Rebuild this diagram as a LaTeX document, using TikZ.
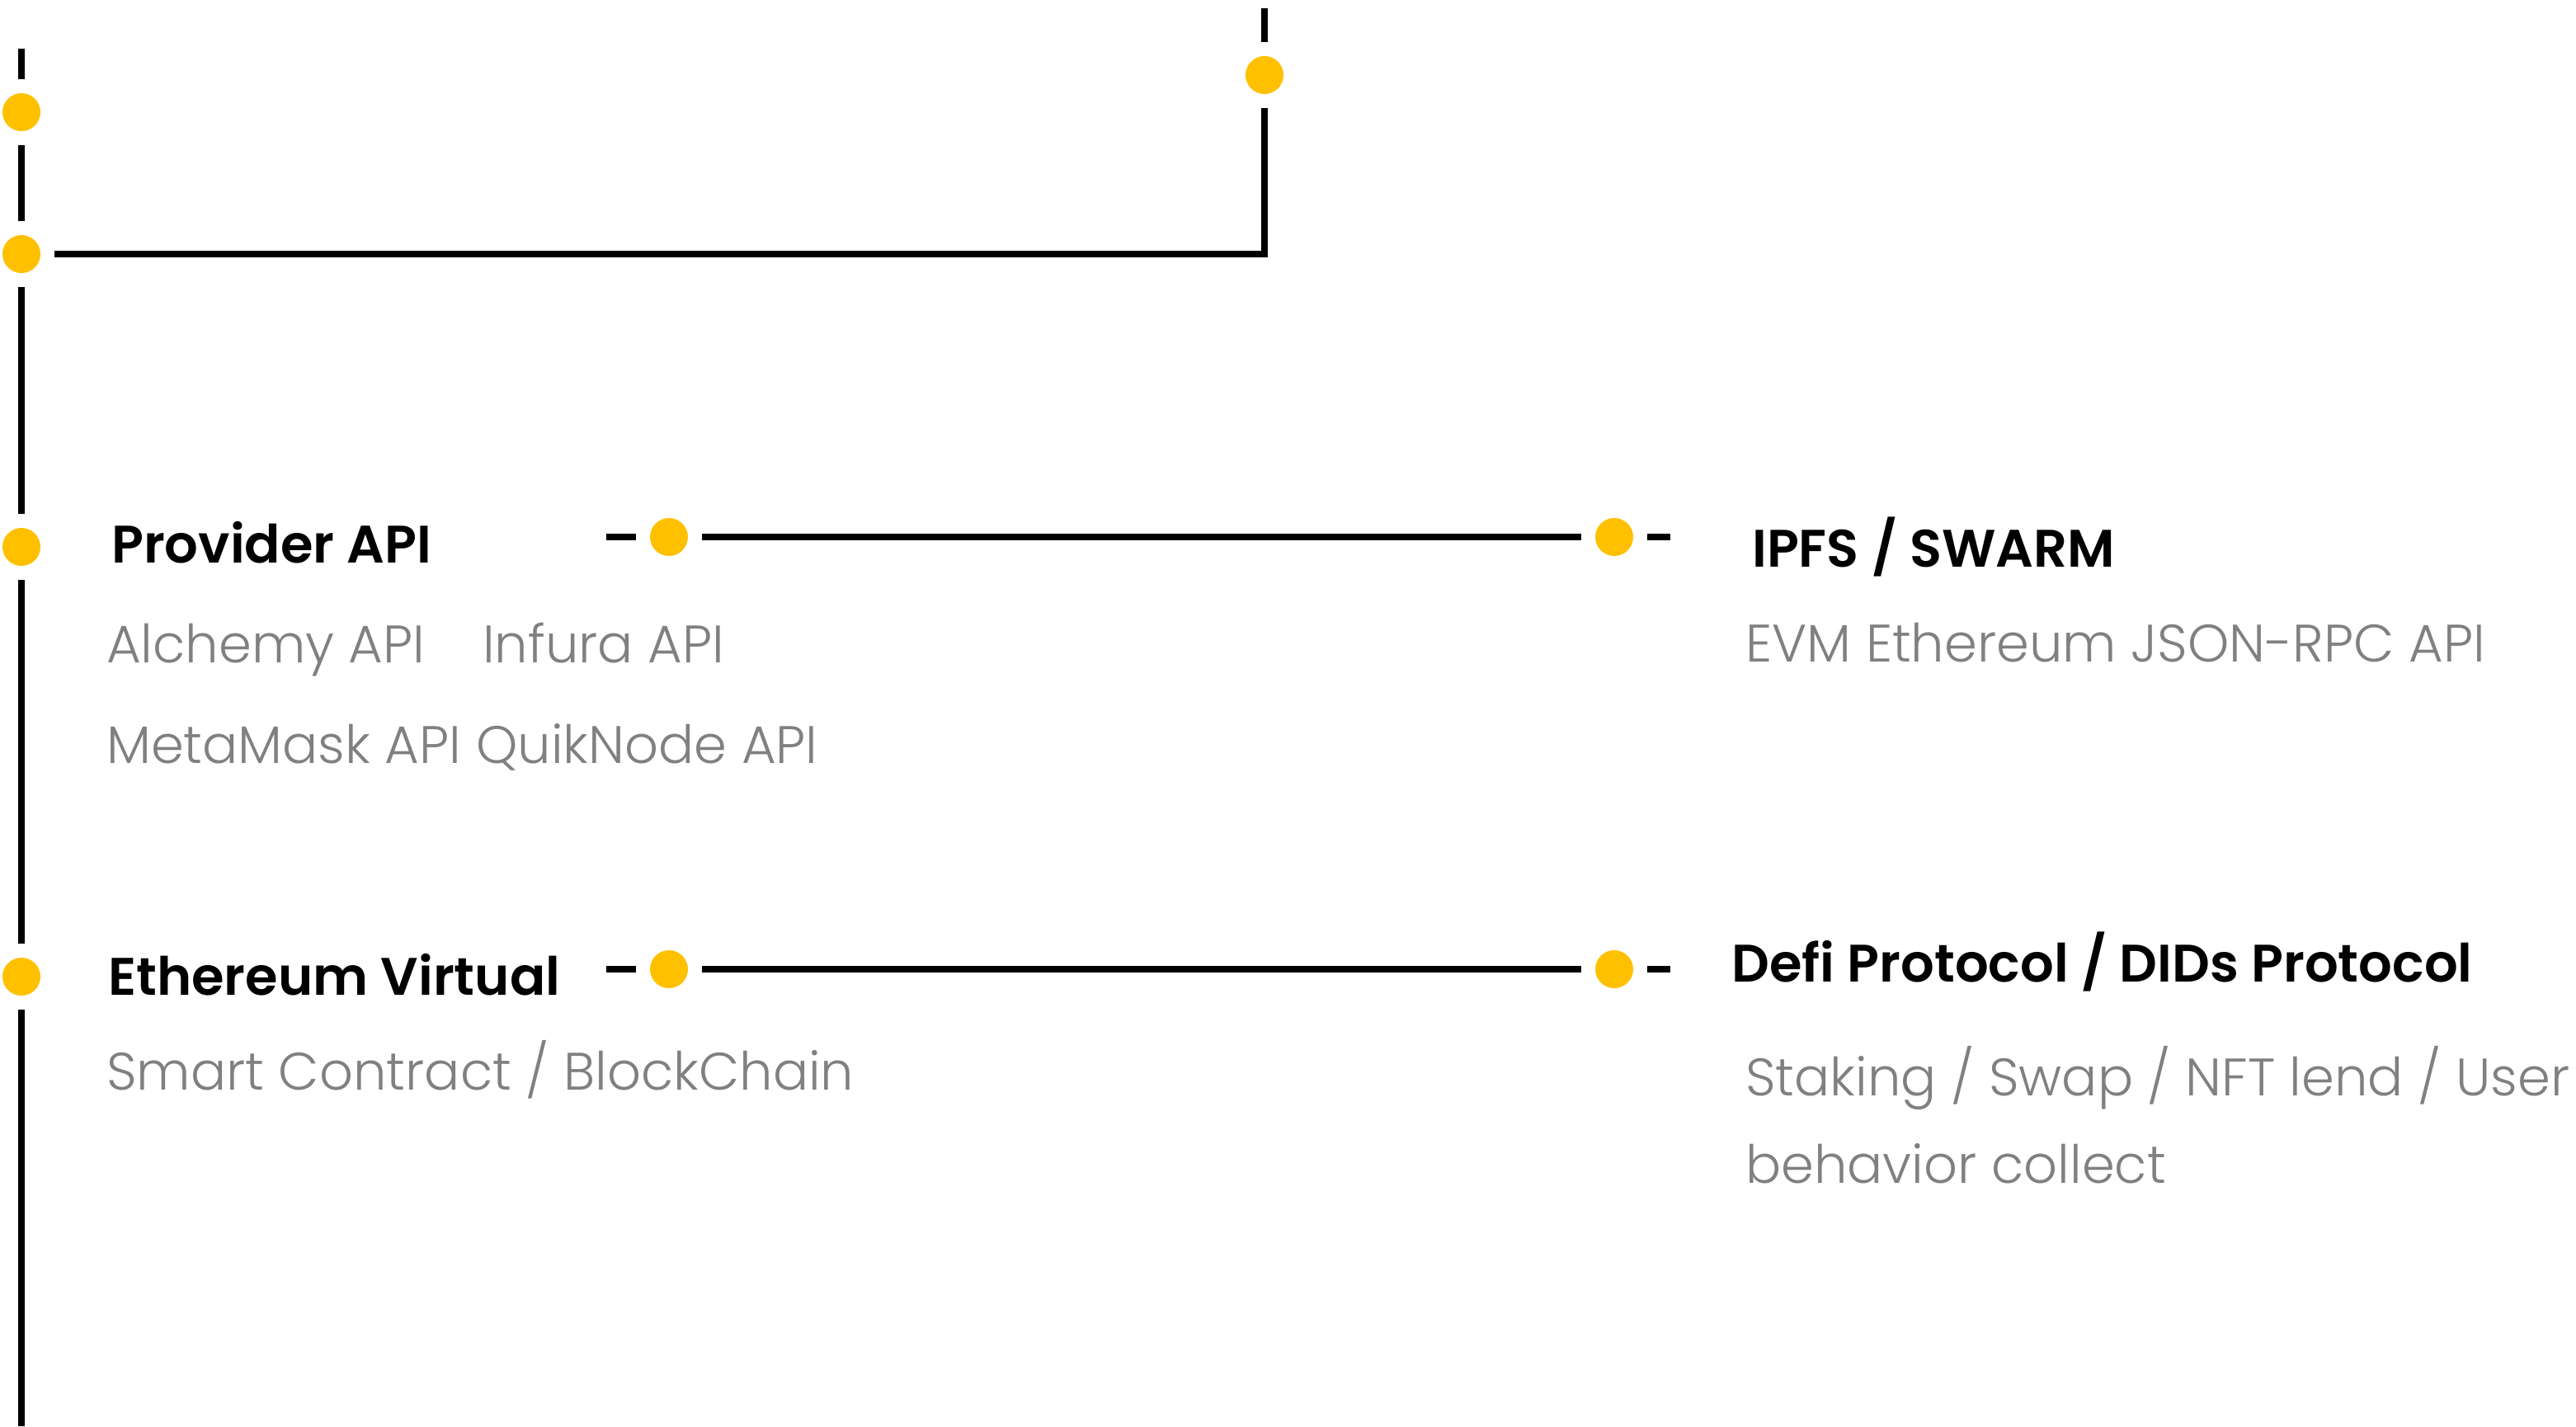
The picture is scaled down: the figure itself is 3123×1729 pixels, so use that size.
\documentclass[tikz,border=0pt]{standalone}
\usepackage{fontspec}
\newfontfamily\headfont{Poppins SemiBold}
\newfontfamily\subfont{Poppins Light}
\usetikzlibrary{positioning}
\definecolor{dotyellow}{HTML}{FFC000}
\definecolor{subgray}{HTML}{808080}

\tikzset{
  ydot/.style={circle, fill=dotyellow, minimum size=46pt, inner sep=0pt, outer sep=17pt},
  wireline/.style={line width=7.5pt, line join=miter},
  headtext/.style={anchor=base west, inner sep=0pt, font=\headfont\fontsize{64}{77}\selectfont},
  subtext/.style={anchor=base west, inner sep=0pt, text=subgray, font=\subfont\fontsize{64}{77}\selectfont},
}

\begin{document}
\begin{tikzpicture}[x=1pt, y=-1pt]
   \useasboundingbox (0,0) rectangle (3123,1729);

   % Main timeline
   \coordinate (ltop) at (26,59);
   \node[ydot] (l1) at (26,136) {};
   \node[ydot] (l2) at (26,308) {};
   \node[ydot] (l3) at (26,663) {};
   \node[ydot] (l4) at (26,1184) {};
   \coordinate (lbot) at (26,1729);
   \draw[wireline] (ltop) -- (l1);
   \draw[wireline] (l1) -- (l2);
   \draw[wireline] (l2) -- (l3);
   \draw[wireline] (l3) -- (l4);
   \draw[wireline] (l4) -- (lbot);

   % Branch from the top
   \coordinate (rtop) at (1533,10);
   \node[ydot] (r1) at (1533,91) {};
   \coordinate (corner) at (1533,308);
   \draw[wireline] (rtop) -- (r1);
   \draw[wireline] (r1) -- (corner) -- (l2);

   % Provider row
   \node[headtext] (provider) at (135,682) {Provider API};
   \node[subtext] (alchemy) at (129,803) {Alchemy API};
   \node[subtext] (infura) at (585,803) {Infura API};
   \node[subtext] (metamask) at (129,925) {MetaMask API};
   \node[subtext] (quiknode) at (577,925) {QuikNode API};

   \coordinate (pa0) at (735,651);
   \node[ydot] (pa) at (811,651) {};
   \node[ydot] (pb) at (1957,651) {};
   \coordinate (pb0) at (2025,651);
   \draw[wireline] (pa0) -- (pa);
   \draw[wireline] (pa) -- (pb);
   \draw[wireline] (pb) -- (pb0);

   \node[headtext] (ipfs) at (2124,687) {IPFS / SWARM};
   \node[subtext] (evm) at (2116,802) {EVM Ethereum JSON-RPC API};

   % Ethereum row
   \node[headtext] (ethvm) at (131,1206) {Ethereum Virtual};
   \node[subtext] (contract) at (129,1321) {Smart Contract / BlockChain};

   \coordinate (ea0) at (735,1175);
   \node[ydot] (ea) at (811,1175) {};
   \node[ydot] (eb) at (1957,1175) {};
   \coordinate (eb0) at (2025,1175);
   \draw[wireline] (ea0) -- (ea);
   \draw[wireline] (ea) -- (eb);
   \draw[wireline] (eb) -- (eb0);

   \node[headtext] (defi) at (2099,1190) {Defi Protocol / DIDs Protocol};
   \node[subtext] (staking) at (2116,1328) {Staking / Swap / NFT lend / User};
   \node[subtext] (behavior) at (2116,1434) {behavior collect};

\end{tikzpicture}
\end{document}
